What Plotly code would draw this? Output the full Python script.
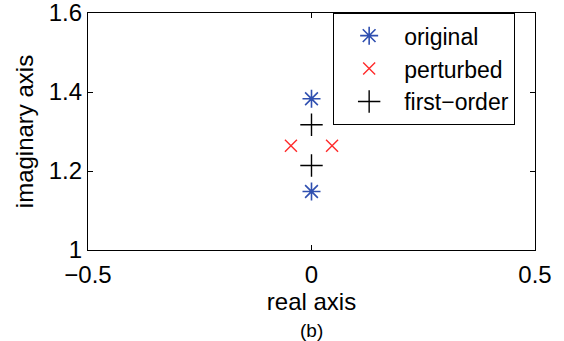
import plotly.graph_objects as go

orig_re = [0.0, 0.0]
orig_im = [1.383, 1.148]
pert_re = [-0.046, 0.046]
pert_im = [1.264, 1.264]
first_re = [0.0, 0.0]
first_im = [1.317, 1.214]

x_ticks = [-0.5, 0, 0.5]
x_tick_text = ["\u22120.5", "0", "0.5"]
y_ticks = [1, 1.2, 1.4, 1.6]
y_tick_text = ["1", "1.2", "1.4", "1.6"]

BLUE = "#2f4fb0"
RED = "#ff2a2a"
FONT = "Liberation Sans, Arial, Helvetica, sans-serif"

fig = go.Figure()
fig.add_trace(go.Scatter(x=orig_re, y=orig_im, mode="markers", name="original",
                         marker=dict(symbol="asterisk-open", size=15, color=BLUE,
                                     line=dict(width=1.6, color=BLUE))))
fig.add_trace(go.Scatter(x=pert_re, y=pert_im, mode="markers", name="perturbed",
                         marker=dict(symbol="x-thin-open", size=12, color=RED,
                                     line=dict(width=1.4, color=RED))))
fig.add_trace(go.Scatter(x=first_re, y=first_im, mode="markers", name="first\u2212order",
                         marker=dict(symbol="cross-thin-open", size=16, color="black",
                                     line=dict(width=1.4, color="black"))))

fig.update_layout(
    width=564, height=341,
    margin=dict(l=88, r=29, t=13, b=91),
    paper_bgcolor="white", plot_bgcolor="white",
    font=dict(family=FONT, size=24, color="black"),
    showlegend=True,
    legend=dict(x=0.548, y=1.0, xanchor="left", yanchor="top",
                bordercolor="black", borderwidth=1.2, bgcolor="white",
                font=dict(size=23, family=FONT), itemwidth=60,
                tracegroupgap=0),
    xaxis=dict(range=[-0.5, 0.5], tickvals=x_ticks, ticktext=x_tick_text,
               ticks="inside", ticklen=5, tickwidth=1, tickcolor="black",
               showline=True, linecolor="black", linewidth=1.2, mirror="ticks",
               showgrid=False, zeroline=False, automargin=False,
               tickfont=dict(size=24), ticklabelstandoff=3,
               title=dict(text="real axis", standoff=0, font=dict(size=24))),
    yaxis=dict(range=[1, 1.6], tickvals=y_ticks, ticktext=y_tick_text,
               ticks="inside", ticklen=5, tickwidth=1, tickcolor="black",
               showline=True, linecolor="black", linewidth=1.2, mirror="ticks",
               showgrid=False, zeroline=False, automargin=False,
               ticklabeloverflow="allow",
               tickfont=dict(size=24),
               title=dict(text="imaginary axis", standoff=8, font=dict(size=24))),
    annotations=[dict(text="(b)", x=0.5, xref="paper", y=-0.34, yref="paper",
                      yanchor="middle", showarrow=False, font=dict(size=19, family=FONT))],
)

fig.write_html("out.html")
